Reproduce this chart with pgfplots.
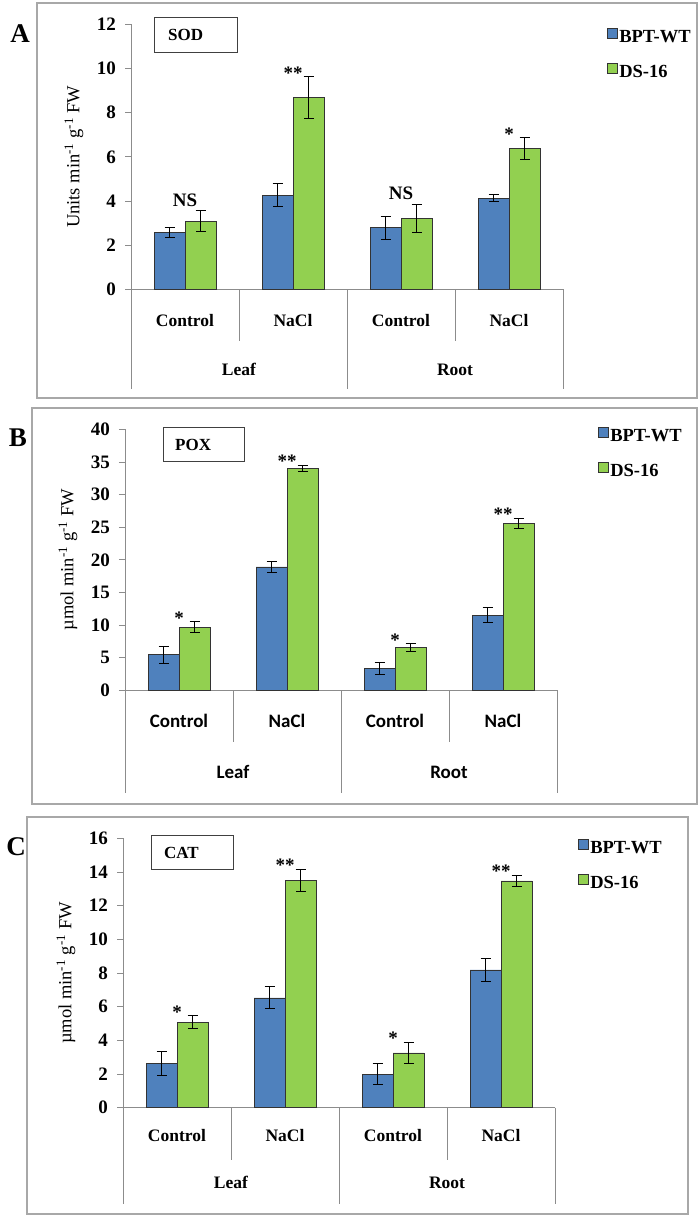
\documentclass[border=0pt]{standalone}
\usepackage{fontspec}
\setmainfont{Liberation Serif}
\newfontfamily\calibri{Carlito}
\usepackage{pgfplots}
\pgfplotsset{compat=1.18}

\definecolor{wtblue}{HTML}{4F81BD}
\definecolor{dsgreen}{HTML}{92D050}
\definecolor{framegray}{HTML}{A8A8A8}
\definecolor{axgray}{HTML}{8C8C8C}

\newcommand{\fs}[1]{\fontsize{#1}{#1}\selectfont}

\pgfplotsset{
  panel/.style={
    scale only axis, width=432pt, anchor=south west,
    xmin=-0.5, xmax=3.5, ymin=0,
    axis x line*=bottom, axis y line*=left,
    axis line style={axgray, line width=0.8pt},
    tick align=outside, major tick length=6pt,
    ytick style={axgray, line width=0.8pt},
    xtick={0,1,2,3}, xtick style={draw=none},
    xticklabels={Control,NaCl,Control,NaCl},
    xticklabel style={font=\fs{17.5}\bfseries, anchor=base, yshift=-31pt},
    yticklabel style={font=\fs{19}\bfseries, inner sep=2pt, xshift=-7pt},
    /pgf/number format/assume math mode=true,
    every axis y label/.style={at={(axis description cs:0,0.5)}, xshift=-57pt,
      rotate=90, anchor=center, font=\fs{18.5}},
    ybar, bar width=31pt,
    legend style={draw=none, fill=none, font=\fs{18.5}\bfseries, anchor=north west,
      at={(rel axis cs:1,1)}, row sep=18pt, inner sep=0pt, nodes={inner sep=1.5pt}},
    legend cell align=left,
    clip=false,
  },
  seps/.style={after end axis/.code={
    \draw[axgray, line width=0.8pt]
      (axis cs:-0.5,0) -- ++(0pt,-#1) (axis cs:1.5,0) -- ++(0pt,-#1)
      (axis cs:3.5,0) -- ++(0pt,-#1)
      (axis cs:0.5,0) -- ++(0pt,-52pt) (axis cs:2.5,0) -- ++(0pt,-52pt);
  }},
  wt/.style={fill=wtblue, draw=black!80, line width=0.8pt, bar shift=-15.5pt,
    legend image code/.code={\draw[##1, draw=black!80, line width=0.6pt] (0pt,-1pt) rectangle (10pt,9pt);},
    error bars/.cd, y dir=both, y explicit,
    error bar style={black, line width=1pt},
    error mark options={black, line width=1pt, mark size=5pt, rotate=90}},
  ds/.style={fill=dsgreen, draw=black!80, line width=0.8pt, bar shift=15.5pt,
    legend image code/.code={\draw[##1, draw=black!80, line width=0.6pt] (0pt,-1pt) rectangle (10pt,9pt);},
    error bars/.cd, y dir=both, y explicit,
    error bar style={black, line width=1pt},
    error mark options={black, line width=1pt, mark size=5pt, rotate=90}},
  ann/.style={draw=none, fill=none, bar shift=15.5pt, forget plot,
    nodes near coords, point meta=explicit symbolic,
    every node near coord/.style={font=\fs{19}\bfseries, text=black, anchor=base, yshift=#1}},
}

\begin{document}
\begin{tikzpicture}
\useasboundingbox (0pt,0pt) rectangle (700pt,-1218pt);

% panel frames, letters and enzyme boxes
\draw[framegray, line width=1.3pt] (37pt,-3pt) rectangle (697pt,-398pt);
\draw[framegray, line width=1.3pt] (32pt,-408pt) rectangle (697pt,-804pt);
\draw[framegray, line width=1.3pt] (27pt,-817pt) rectangle (688pt,-1214pt);
\node[font=\fs{27}\bfseries] at (20pt,-34pt) {A};
\node[font=\fs{27}\bfseries] at (18pt,-438pt) {B};
\node[font=\fs{27}\bfseries] at (16pt,-847pt) {C};
\draw[black!75, line width=1pt] (154pt,-17pt) rectangle (237pt,-52pt);
\node[font=\fs{17}\bfseries, anchor=west, inner sep=0pt] at (168pt,-35pt) {SOD};
\draw[black!75, line width=1pt] (163pt,-427pt) rectangle (244pt,-461pt);
\node[font=\fs{17}\bfseries, anchor=west, inner sep=0pt] at (175pt,-445pt) {POX};
\draw[black!75, line width=1pt] (151pt,-835pt) rectangle (233pt,-869pt);
\node[font=\fs{17}\bfseries, anchor=west, inner sep=0pt] at (164pt,-853pt) {CAT};

% A: SOD
\begin{axis}[panel, seps=100pt, at={(131pt,-289.3pt)}, height=265pt,
  ymax=12, ytick={0,2,...,12},
  ylabel={Units min\textsuperscript{-1} g\textsuperscript{-1} FW},
  legend style={xshift=44pt, yshift=-3pt},
  after end axis/.append code={
    \node[font=\fs{17.5}\bfseries, anchor=base] at ([yshift=-86pt]axis cs:0.5,0) {Leaf};
    \node[font=\fs{17.5}\bfseries, anchor=base] at ([yshift=-86pt]axis cs:2.5,0) {Root};
  }]
\addplot+[wt] coordinates {(0,2.56) +- (0,0.22) (1,4.27) +- (0,0.5) (2,2.79) +- (0,0.52) (3,4.13) +- (0,0.17)};
\addplot+[ds] coordinates {(0,3.08) +- (0,0.48) (1,8.68) +- (0,0.94) (2,3.21) +- (0,0.64) (3,6.38) +- (0,0.48)};
\addplot[ann=4.5pt] coordinates {(0,3.56) [NS] (2,3.85) [NS]};
\addplot[ann=-2.5pt] coordinates {(1,9.62) [**] (3,6.86) [*]};
\legend{BPT-WT, DS-16}
\end{axis}

% B: POX
\begin{axis}[panel, seps=103pt, at={(125pt,-690.3pt)}, height=261pt,
  ymax=40, ytick={0,5,...,40},
  xticklabel style={font=\calibri\fs{19}\bfseries},
  ylabel={µmol min\textsuperscript{-1} g\textsuperscript{-1} FW},
  legend style={xshift=41pt, yshift=3pt},
  after end axis/.append code={
    \node[font=\calibri\fs{19}\bfseries, anchor=base] at ([yshift=-88pt]axis cs:0.5,0) {Leaf};
    \node[font=\calibri\fs{19}\bfseries, anchor=base] at ([yshift=-88pt]axis cs:2.5,0) {Root};
  }]
\addplot+[wt] coordinates {(0,5.45) +- (0,1.3) (1,18.9) +- (0,0.85) (2,3.35) +- (0,0.88) (3,11.5) +- (0,1.15)};
\addplot+[ds] coordinates {(0,9.65) +- (0,0.82) (1,34.0) +- (0,0.5) (2,6.55) +- (0,0.58) (3,25.6) +- (0,0.8)};
\addplot[ann=-2.5pt] coordinates {(0,10.47) [*] (1,34.5) [**] (2,7.13) [*] (3,26.4) [**]};
\legend{BPT-WT, DS-16}
\end{axis}

% C: CAT
\begin{axis}[panel, seps=96pt, at={(123pt,-1107.7pt)}, height=269.4pt,
  ymax=16, ytick={0,2,...,16},
  xticklabel style={yshift=3pt},
  ylabel={µmol min\textsuperscript{-1} g\textsuperscript{-1} FW},
  legend style={xshift=23pt, yshift=0pt},
  after end axis/.append code={
    \node[font=\fs{17.5}\bfseries, anchor=base] at ([yshift=-81pt]axis cs:0.5,0) {Leaf};
    \node[font=\fs{17.5}\bfseries, anchor=base] at ([yshift=-81pt]axis cs:2.5,0) {Root};
  }]
\addplot+[wt] coordinates {(0,2.62) +- (0,0.72) (1,6.52) +- (0,0.65) (2,1.98) +- (0,0.62) (3,8.18) +- (0,0.68)};
\addplot+[ds] coordinates {(0,5.08) +- (0,0.37) (1,13.5) +- (0,0.65) (2,3.25) +- (0,0.65) (3,13.47) +- (0,0.35)};
\addplot[ann=-2.5pt] coordinates {(0,5.45) [*] (1,14.15) [**] (2,3.9) [*] (3,13.82) [**]};
\legend{BPT-WT, DS-16}
\end{axis}
\end{tikzpicture}
\end{document}
